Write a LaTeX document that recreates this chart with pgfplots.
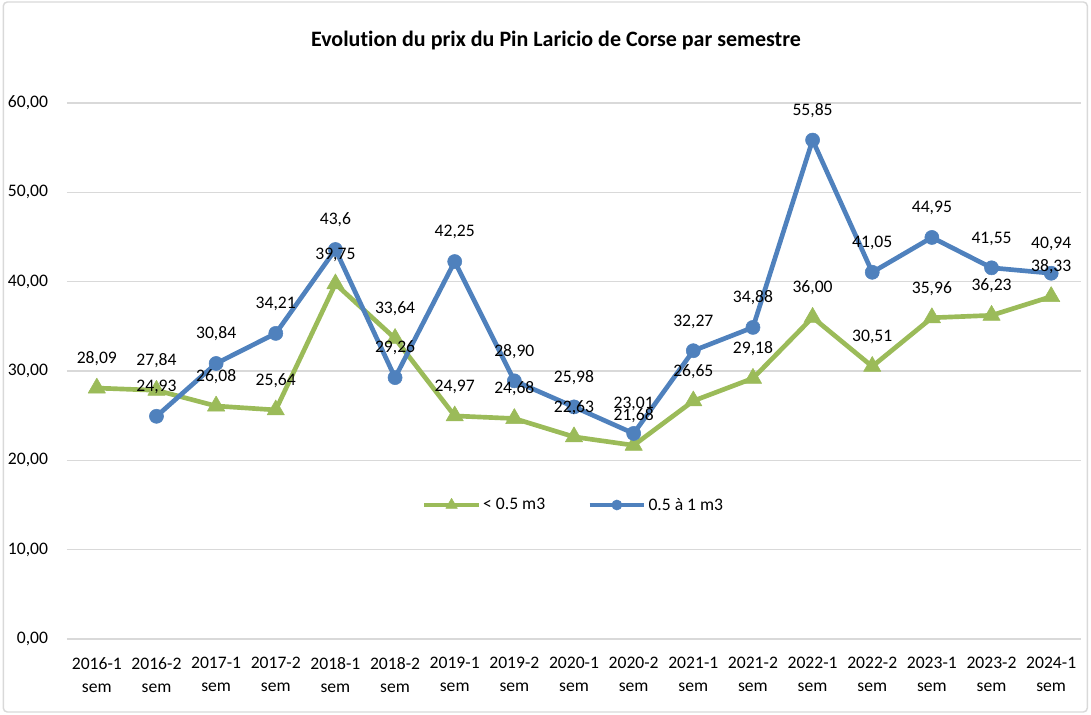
\documentclass[border=0pt]{standalone}
\usepackage{pgfplots}
\pgfplotsset{compat=1.18}
\usepackage{fontspec}
\setmainfont[Ligatures=NoCommon]{Carlito}
\definecolor{cgreen}{HTML}{9BBB59}
\definecolor{cblue}{HTML}{4F81BD}
\definecolor{cgrid}{HTML}{D9D9D9}
\newcommand{\lblfont}{\fontsize{13.2}{17.25}\selectfont}
\begin{document}
\begin{tikzpicture}
\useasboundingbox (0,0) rectangle (818.25pt,535.5pt);
\draw[cgrid, line width=1.1pt, rounded corners=3pt] (2.5pt,1.5pt) rectangle (815.5pt,534pt);
\node[font=\fontsize{16.5}{19}\selectfont\bfseries] at (417pt,505pt) {Evolution du prix du Pin Laricio de Corse par semestre};
\begin{axis}[
  at={(50.25pt,56.25pt)}, anchor=south west,
  scale only axis, width=760.5pt, height=402pt,
  xmin=-0.5, xmax=16.5, ymin=0, ymax=60,
  ytick={0,10,...,60},
  xtick={0,...,16},
  xticklabels={{2016-1\\sem},{2016-2\\sem},{2017-1\\sem},{2017-2\\sem},{2018-1\\sem},{2018-2\\sem},{2019-1\\sem},{2019-2\\sem},{2020-1\\sem},{2020-2\\sem},{2021-1\\sem},{2021-2\\sem},{2022-1\\sem},{2022-2\\sem},{2023-1\\sem},{2023-2\\sem},{2024-1\\sem}},
  axis line style={draw=none},
  major tick length=0pt,
  tick style={draw=none},
  ymajorgrids, grid style={cgrid, line width=1pt},
  tick label style={font=\lblfont},
  yticklabel style={anchor=east, inner sep=0pt, xshift=-14pt},
  xticklabel style={anchor=north, inner sep=0pt, yshift=-13.5pt, align=center},
  /pgf/number format/.cd, fixed, fixed zerofill, precision=2, use comma, assume math mode=true,
  /pgfplots/.cd,
  clip=false,
  legend style={at={(0.4995,0.25)}, anchor=center, draw=none, fill=none, font=\lblfont,
    legend columns=2, /tikz/every even column/.append style={column sep=30pt},
    nodes={inner sep=1.5pt}},
  legend cell align=left,
]
\addplot[cgreen, line width=3.5pt, line join=round, mark=triangle*, mark size=7.5pt,
  mark options={solid, fill=cgreen, draw=cgreen, line width=0.4pt},
  legend image code/.code={
    \draw[cgreen, line width=3.5pt] (0pt,0pt) -- (41pt,0pt);
    \draw[cgreen, fill=cgreen, line width=0.4pt] plot[mark=triangle*, mark size=5pt] coordinates {(20.5pt,0pt)};
  }] coordinates {
(0,28.09) (1,27.84) (2,26.08) (3,25.64) (4,39.75) (5,33.64) (6,24.97) (7,24.68) (8,22.63) (9,21.68) (10,26.65) (11,29.18) (12,36.00) (13,30.51) (14,35.96) (15,36.23) (16,38.33)
};
\addlegendentry{< 0.5 m3}
\addplot[cblue, line width=3.5pt, line join=round, mark=*, mark size=5.3pt,
  mark options={solid, fill=cblue, draw=cblue, line width=0.4pt},
  legend image code/.code={
    \draw[cblue, line width=3.5pt] (0pt,0pt) -- (41pt,0pt);
    \draw[cblue, fill=cblue, line width=0.4pt] plot[mark=*, mark size=3.8pt] coordinates {(20.5pt,0pt)};
  }] coordinates {
(1,24.93) (2,30.84) (3,34.21) (4,43.6) (5,29.26) (6,42.25) (7,28.90) (8,25.98) (9,23.01) (10,32.27) (11,34.88) (12,55.85) (13,41.05) (14,44.95) (15,41.55) (16,40.94)
};
\addlegendentry{0.5 à 1 m3}
\addplot[forget plot, draw=none, mark=none, nodes near coords, point meta=explicit symbolic,
  every node near coord/.append style={anchor=base, yshift=18.5pt, inner sep=0pt, font=\lblfont, text=black}]
  table[x=x, y=y, meta=l, row sep=\\] {
x y l \\
0 28.09 28,09 \\
1 27.84 27,84 \\
2 26.08 26,08 \\
3 25.64 25,64 \\
4 39.75 39,75 \\
5 33.64 33,64 \\
6 24.97 24,97 \\
7 24.68 24,68 \\
8 22.63 22,63 \\
9 21.68 21,68 \\
10 26.65 26,65 \\
11 29.18 29,18 \\
12 36.00 36,00 \\
13 30.51 30,51 \\
14 35.96 35,96 \\
15 36.23 36,23 \\
16 38.33 38,33 \\
};
\addplot[forget plot, draw=none, mark=none, nodes near coords, point meta=explicit symbolic,
  every node near coord/.append style={anchor=base, yshift=18.5pt, inner sep=0pt, font=\lblfont, text=black}]
  table[x=x, y=y, meta=l, row sep=\\] {
x y l \\
1 24.93 24,93 \\
2 30.84 30,84 \\
3 34.21 34,21 \\
4 43.6 43,6 \\
5 29.26 29,26 \\
6 42.25 42,25 \\
7 28.90 28,90 \\
8 25.98 25,98 \\
9 23.01 23,01 \\
10 32.27 32,27 \\
11 34.88 34,88 \\
12 55.85 55,85 \\
13 41.05 41,05 \\
14 44.95 44,95 \\
15 41.55 41,55 \\
16 40.94 40,94 \\
};
\end{axis}
\end{tikzpicture}
\end{document}
